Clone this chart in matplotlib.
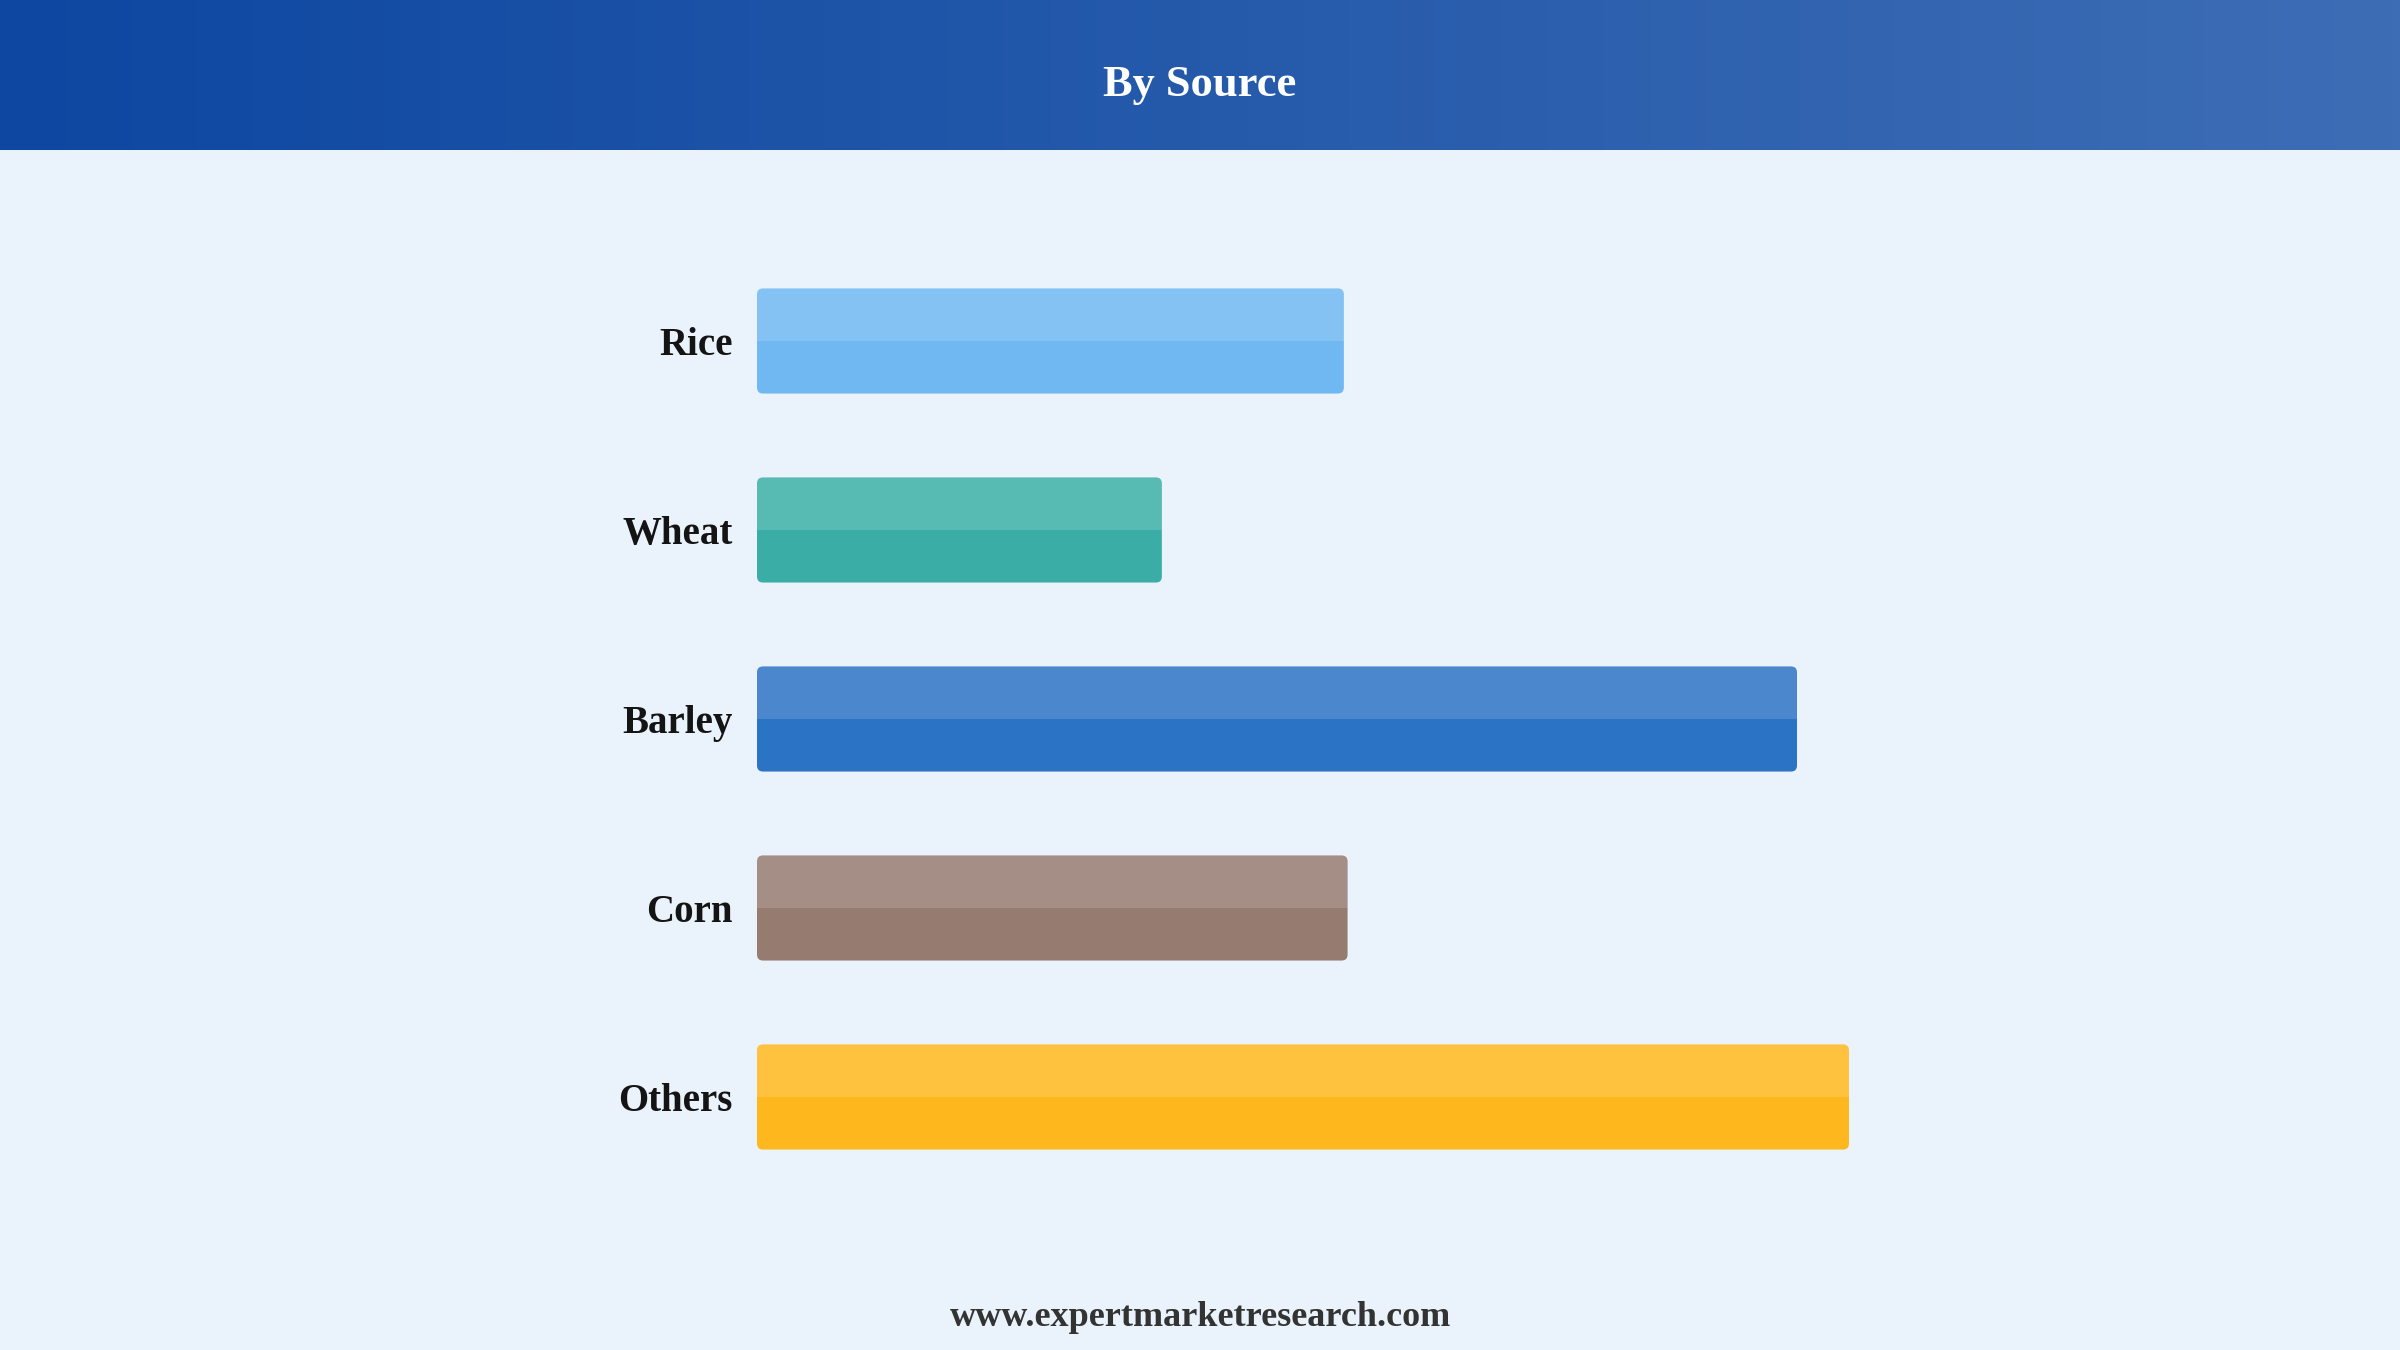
import numpy as np
import matplotlib
matplotlib.use("Agg")
import matplotlib.pyplot as plt
from matplotlib.patches import FancyBboxPatch

# datos
fuentes = ["Rice", "Wheat", "Barley", "Corn", "Others"]
valores = [15.8, 10.9, 28.0, 15.9, 29.4]
colores = ["#6FB8F2", "#3AAEA6", "#2B73C4", "#967B70", "#FEB81E"]
titulo = "By Source"
pie = "www.expertmarketresearch.com"

plt.rcParams['font.family'] = ['Liberation Serif', 'DejaVu Serif']

W, H = 2400, 1350
fig = plt.figure(figsize=(24, 13.5), dpi=100)
fig.patch.set_facecolor("#EAF2FB")

# cabecera con degradado
cab = fig.add_axes([0, 1 - 150 / H, 1, 150 / H])
grad = np.linspace(0, 1, 256).reshape(1, -1)
c0 = np.array(matplotlib.colors.to_rgb("#0D47A1"))
c1 = np.array(matplotlib.colors.to_rgb("#3D6DB5"))
img = c0[None, None, :] * (1 - grad[..., None]) + c1[None, None, :] * grad[..., None]
cab.imshow(img, aspect="auto", extent=[0, 1, 0, 1])
cab.set_axis_off()
cab.text(0.5, 1 - 85 / 150, titulo, color="white", fontsize=32, fontweight="bold",
         ha="center", va="center")

# grafico de barras
ax = fig.add_axes([757 / W, 1 - 1191.5 / H, 1300 / W, 945 / H])
ax.set_facecolor("none")
ax.set_xlim(0, 35)
ax.set_ylim(4.5, -0.5)
alto = 0.556
barras = ax.barh(range(len(fuentes)), valores, height=alto, color=colores)

# factor para redondear esquinas en coordenadas de datos
px_x = 1300 / 35
px_y = 945 / 5
radio = 6 / px_x
for b, col in zip(barras, colores):
    x, y = b.get_x(), b.get_y()
    w, h = b.get_width(), b.get_height()
    b.remove()
    p = FancyBboxPatch((x, y), w, h, boxstyle=f"round,pad=0,rounding_size={radio}",
                       mutation_aspect=px_x / px_y, facecolor=col, edgecolor="none")
    ax.add_patch(p)
    luz = plt.Rectangle((x, y), w, h / 2, facecolor="white", alpha=0.15,
                        edgecolor="none")
    ax.add_patch(luz)
    luz.set_clip_path(p)

for i, nombre in enumerate(fuentes):
    ax.text(-24 / px_x, i + 4.5 / px_y, nombre, ha="right", va="center", fontsize=28,
            fontweight="bold", color="#141414")

ax.set_axis_off()

fig.text(0.5, 1 - 1318 / H, pie, ha="center", va="center", fontsize=26,
         fontweight="bold", color="#333333")

fig.savefig("out.png", dpi=100, facecolor=fig.get_facecolor())
